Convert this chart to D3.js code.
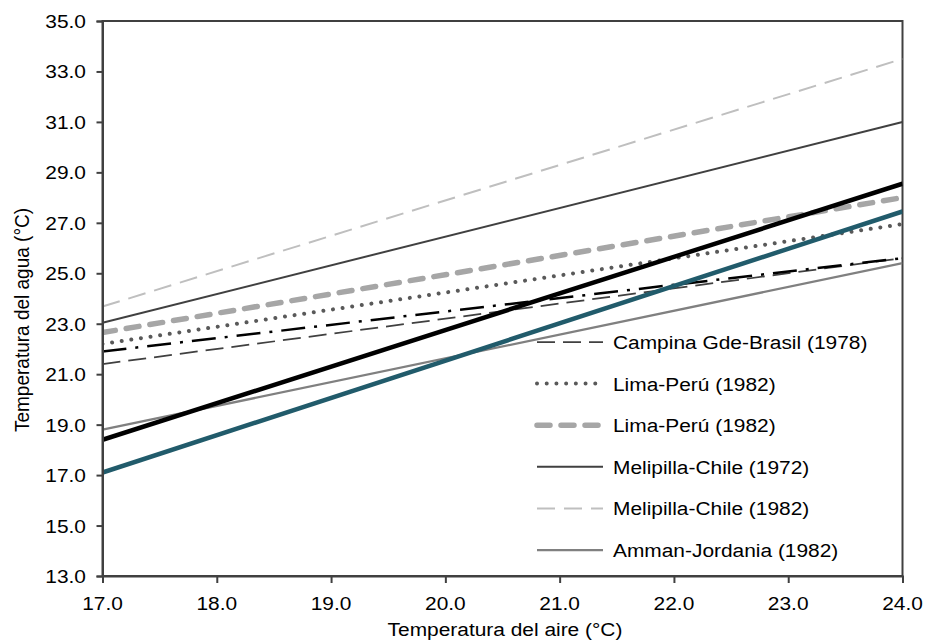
<!DOCTYPE html>
<html>
<head>
<meta charset="utf-8">
<script src="https://cdn.jsdelivr.net/npm/d3@7"></script>
<style>
  html, body { margin: 0; padding: 0; background: #fff; }
  text { font-family: "Liberation Sans", Arial, sans-serif; fill: #000; }
</style>
</head>
<body>
<svg id="chart" width="929" height="642"></svg>
<script>
// ---- data ----
const xEnds = [17, 24];
const campinaBrasil1978 = [21.4, 25.6];
const limaPeru1982Dot = [22.2, 26.95];
const limaPeru1982Dash = [22.65, 28.0];
const melipillaChile1972 = [23.04, 31.0];
const melipillaChile1982 = [23.68, 33.5];
const ammanJordania1982 = [18.8, 25.4];
const unlabeledDashDot = [21.9, 25.6];
const unlabeledBlack = [18.4, 28.55];
const unlabeledTeal = [17.1, 27.45];
const legendNames = ["Campina Gde-Brasil (1978)", "Lima-Perú (1982)", "Lima-Perú (1982)",
                     "Melipilla-Chile (1972)", "Melipilla-Chile (1982)", "Amman-Jordania (1982)"];
const xTicks = [17, 18, 19, 20, 21, 22, 23, 24];
const yTicks = [13, 15, 17, 19, 21, 23, 25, 27, 29, 31, 33, 35];
const xTitle = "Temperatura del aire (°C)";
const yTitle = "Temperatura del agua (°C)";

// ---- styles ----
const styles = [
  {color: "#404040", w: 1.75, dash: "18,8", cap: "butt"},
  {color: "#595959", w: 4, dash: "0.01,9.7", cap: "round"},
  {color: "#A6A6A6", w: 5.5, dash: "13,11", cap: "round"},
  {color: "#404040", w: 2, dash: null, cap: "butt"},
  {color: "#BFBFBF", w: 2, dash: "18,9", cap: "butt"},
  {color: "#808080", w: 2.25, dash: null, cap: "butt"},
  {color: "#000000", w: 2.5, dash: "24,9,3,9", cap: "butt"},
  {color: "#000000", w: 4.5, dash: null, cap: "butt"},
  {color: "#215B6B", w: 4.5, dash: null, cap: "butt"}
];
const seriesValues = [campinaBrasil1978, limaPeru1982Dot, limaPeru1982Dash, melipillaChile1972,
  melipillaChile1982, ammanJordania1982, unlabeledDashDot, unlabeledBlack, unlabeledTeal];

const svg = d3.select("#chart");
const L = 102.5, R = 902.5, T = 21, B = 576;
const x = d3.scaleLinear().domain([17, 24]).range([L, R]);
const y = d3.scaleLinear().domain([13, 35]).range([B, T]);
const SX = 1.1, FS = 19;

function hText(g, tx, ty, str, anchor) {
  return g.append("text")
    .attr("transform", `translate(${tx},${ty}) scale(${SX},1)`)
    .attr("text-anchor", anchor)
    .style("font-size", FS + "px")
    .text(str);
}

// frame
svg.append("rect").attr("x", L).attr("y", T).attr("width", R - L).attr("height", B - T)
  .attr("fill", "none").attr("stroke", "#404040").attr("stroke-width", 2);

// clip
svg.append("clipPath").attr("id", "clip").append("rect")
  .attr("x", L).attr("y", T).attr("width", R - L).attr("height", B - T);

// series
const line = d3.line().x((d, i) => x(xEnds[i])).y(d => y(d));
const lg = svg.append("g").attr("clip-path", "url(#clip)");
seriesValues.forEach((vals, i) => {
  const s = styles[i];
  lg.append("path").attr("d", line(vals)).attr("fill", "none")
    .attr("stroke", s.color).attr("stroke-width", s.w)
    .attr("stroke-dasharray", s.dash).attr("stroke-linecap", s.cap);
});

// axes
const xAxis = d3.axisBottom(x).tickValues(xTicks).tickSize(7).tickFormat("");
const gx = svg.append("g").attr("transform", `translate(0,${B})`).call(xAxis);
gx.select(".domain").attr("stroke", "#404040").attr("stroke-width", 2);
gx.selectAll(".tick line").attr("stroke", "#404040").attr("stroke-width", 2);
xTicks.forEach(v => hText(svg, x(v), 610, d3.format(".1f")(v), "middle"));

const yAxis = d3.axisLeft(y).tickValues(yTicks).tickSize(6).tickFormat("");
const gy = svg.append("g").attr("transform", `translate(${L},0)`).call(yAxis);
gy.select(".domain").attr("stroke", "#404040").attr("stroke-width", 2);
gy.selectAll(".tick line").attr("stroke", "#404040").attr("stroke-width", 2);
yTicks.forEach(v => hText(svg, 86, y(v) + 7, d3.format(".1f")(v), "end"));

// titles
hText(svg, 505, 636, xTitle, "middle");
svg.append("text")
  .attr("transform", `translate(29,${320}) rotate(-90) scale(1,${SX})`)
  .attr("text-anchor", "middle").style("font-size", FS + "px").text(yTitle);

// legend
const legY0 = 342, legDy = 41.6;
legendNames.forEach((name, i) => {
  const s = styles[i];
  const yy = legY0 + i * legDy;
  svg.append("line").attr("x1", 537).attr("x2", 603).attr("y1", yy).attr("y2", yy)
    .attr("stroke", s.color).attr("stroke-width", s.w)
    .attr("stroke-dasharray", s.dash).attr("stroke-linecap", s.cap);
  hText(svg, 613, yy + 7, name, "start");
});
</script>
</body>
</html>
